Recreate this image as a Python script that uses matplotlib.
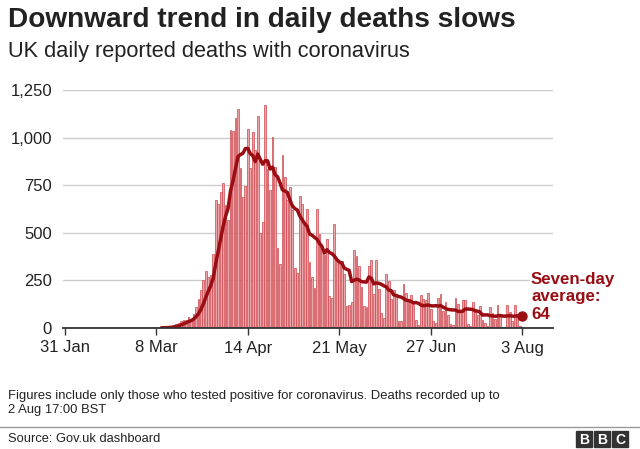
import numpy as np
import pandas as pd
import matplotlib
matplotlib.use("Agg")
import matplotlib.pyplot as plt
from matplotlib.patches import Rectangle

plt.rcParams['font.family'] = ['Liberation Sans', 'DejaVu Sans']

# daily reported deaths, from 4 March 2020 to 3 August 2020
first_day = '2020-03-04'
deaths_mar = [0, 1, 1, 0, 2, 1, 2, 3, 2, 5, 10, 14, 20, 24, 38, 44, 40, 56, 48, 74,
              110, 150, 200, 250, 300, 270, 280, 390]
deaths_apr = [670, 652, 714, 760, 644, 568, 1038, 1034, 1103, 1152, 839, 686, 744, 1044, 842,
              1029, 935, 1115, 498, 559, 1172, 837, 727, 1005, 843, 420, 338, 909, 795, 674]
deaths_may = [739, 621, 315, 288, 693, 649, 539, 626, 346, 268, 210, 627, 494, 428, 384, 468,
              170, 160, 545, 363, 338, 351, 282, 118, 121, 134, 412, 377, 324, 215, 113]
deaths_jun = [111, 324, 359, 176, 357, 204, 77, 55, 286, 245, 151, 202, 181, 36, 38, 233,
              184, 135, 173, 128, 43, 15, 171, 154, 149, 186, 100, 36, 25, 155]
deaths_jul = [176, 89, 137, 67, 22, 16, 155, 126, 85, 148, 148, 21, 11, 138, 85, 66, 114,
              40, 28, 11, 110, 79, 49, 123, 61, 7, 7, 119, 83, 38, 120]
deaths_aug = [74, 8, 6]

tick_dates = ['2020-01-31', '2020-03-08', '2020-04-14', '2020-05-21', '2020-06-27', '2020-08-03']
tick_labels = ['31 Jan', '8 Mar', '14 Apr', '21 May', '27 Jun', '3 Aug']
y_ticks = [0, 250, 500, 750, 1000, 1250]

deaths = deaths_mar + deaths_apr + deaths_may + deaths_jun + deaths_jul + deaths_aug
dates = pd.date_range(first_day, periods=len(deaths))
origin = pd.Timestamp('2020-01-31')
x = np.array((dates - origin).days)
avg = pd.Series(deaths).rolling(7).mean().values
tick_x = [(pd.Timestamp(d) - origin).days for d in tick_dates]

bar_face = '#eaa6a8'
bar_edge = '#d0454d'
dark_red = '#990d13'

fig = plt.figure(figsize=(6.4, 4.49), dpi=100)
ax = fig.add_axes([63/640, 121/449, 490/640, 238/449])

ax.bar(x, deaths, width=0.72, color=bar_face, edgecolor=bar_edge, linewidth=0.5, zorder=2)
ax.plot(x, avg, color=dark_red, lw=2.5, zorder=3, solid_capstyle='round')
ax.plot(x[-1], avg[-1], 'o', color=dark_red, ms=6.5, zorder=4)

ax.set_xlim(-0.8, 197.5)
ax.set_ylim(0, 1250)
ax.set_yticks(y_ticks)
ax.set_yticklabels([f'{v:,}' for v in y_ticks])
ax.set_xticks(tick_x)
ax.set_xticklabels(tick_labels)
ax.yaxis.grid(True, color='#cccccc', lw=1)
ax.set_axisbelow(True)
for s in ['top', 'right', 'left']:
    ax.spines[s].set_visible(False)
ax.spines['bottom'].set_color('#333333')
ax.spines['bottom'].set_linewidth(1.3)
ax.spines['bottom'].set_zorder(5)
ax.tick_params(axis='y', length=0, pad=8, labelsize=12, labelcolor='#222222')
ax.tick_params(axis='x', length=5, width=1, color='#333333', pad=4, labelsize=12,
               labelcolor='#222222')

fig.text(531/640, 1 - 272/449, 'Seven-day\naverage:\n64', color=dark_red, fontsize=12.2,
         fontweight='bold', va='top', ha='left', linespacing=1.2,
         bbox=dict(facecolor='white', edgecolor='none', pad=1))

fig.text(8/640, 1 - 20/449, 'Downward trend in daily deaths slows', fontsize=20.2,
         fontweight='bold', color='#222222', va='center', ha='left')
fig.text(8/640, 1 - 52/449, 'UK daily reported deaths with coronavirus', fontsize=15.7,
         color='#222222', va='center', ha='left')
fig.text(8/640, 1 - 403/449,
         'Figures include only those who tested positive for coronavirus. Deaths recorded up to\n'
         '2 Aug 17:00 BST', fontsize=9.4, color='#222222', va='center', ha='left',
         linespacing=1.3)
fig.add_artist(plt.Line2D([0, 1], [1 - 427/449, 1 - 427/449], color='#999999', lw=1))
fig.text(8/640, 1 - 439/449, 'Source: Gov.uk dashboard', fontsize=9.3, color='#222222',
         va='center', ha='left')

for i, letter in enumerate('BBC'):
    x0 = (576 + i * 18) / 640
    fig.add_artist(Rectangle((x0, 1 - 447/449), 16/640, 16/449, color='#333333',
                             transform=fig.transFigure))
    fig.text(x0 + 8/640, 1 - 439.5/449, letter, color='white', fontsize=10,
             fontweight='bold', ha='center', va='center')

fig.savefig('out.png', dpi=100, facecolor='white')
